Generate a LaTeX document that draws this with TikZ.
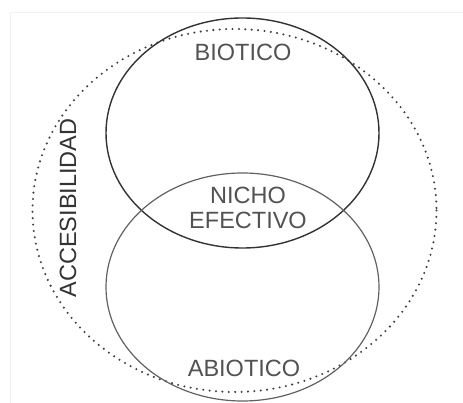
\documentclass[tikz,border=0pt]{standalone}
\usepackage{fontspec}
\setmainfont{Liberation Sans}
\begin{document}
\begin{tikzpicture}[x=1pt,y=-1pt,
  lbl/.style={text=black!68, font=\fontsize{23.5}{25.5}\selectfont, inner sep=0pt, align=center},
  setline/.style={line width=1.4pt},
  dotline/.style={draw=black!75, line width=2.3pt, line cap=round, dash pattern=on 0pt off 6.4pt}]
  \useasboundingbox (0,0) rectangle (463,403);
  % faint sheet frame
  \draw[black!5, line width=0.8pt] (10,403) -- (10,12) -- (463,12);
  % accessibility region
  \draw[dotline] (234.5,210.5) ellipse [x radius=202, y radius=181.5];
  % biotic and abiotic sets
  \draw[setline, draw=black!80] (242.5,133) ellipse [x radius=136.5, y radius=115];
  \draw[setline, draw=black!62, line width=1.2pt] (242.5,287) ellipse [x radius=136.5, y radius=114];
  % labels
  \node[lbl] (bio) at (243,52) {BIOTICO};
  \node[lbl] (nicho) at (248,208) {NICHO\\EFECTIVO};
  \node[lbl] (abio) at (244,368) {ABIOTICO};
  \node[lbl, text=black!80, rotate=90] (acc) at (68,208) {ACCESIBILIDAD};
\end{tikzpicture}
\end{document}
